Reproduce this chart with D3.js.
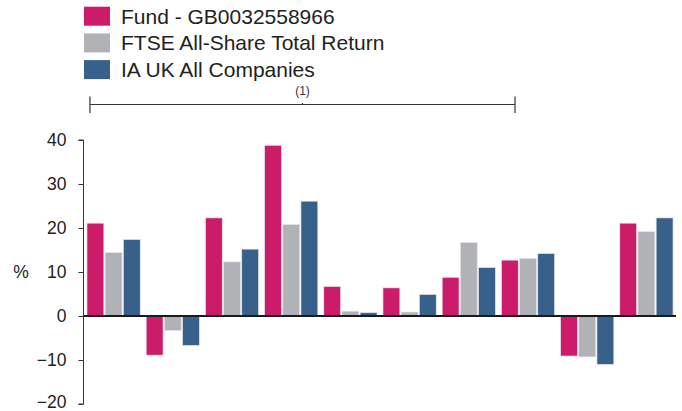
<!DOCTYPE html>
<html>
<head>
<meta charset="utf-8">
<script src="https://cdn.jsdelivr.net/npm/d3@7"></script>
<style>
  body { margin: 0; background: #fff; }
  svg { display: block; font-family: "Liberation Sans", Arial, sans-serif; }
</style>
</head>
<body>
<svg id="chart" width="682" height="411"></svg>
<script>
// periods (no labels shown in the picture)
const periods = ["P1", "P2", "P3", "P4", "P5", "P6", "P7", "P8", "P9", "P10"];
const seriesNames = ["Fund - GB0032558966", "FTSE All-Share Total Return", "IA UK All Companies"];
const seriesColors = ["#cc1b69", "#b1b2b5", "#37608b"];

const fundValues = [21.1, -8.9, 22.3, 38.8, 6.7, 6.4, 8.8, 12.7, -9.1, 21.1];
const ftseValues = [14.4, -3.3, 12.3, 20.8, 1.1, 0.9, 16.7, 13.1, -9.3, 19.2];
const iaValues   = [17.4, -6.7, 15.2, 26.1, 0.75, 4.9, 11.0, 14.2, -11.0, 22.3];

const yTicks = [-20, -10, 0, 10, 20, 30, 40];

const svg = d3.select("#chart");
const allSeries = [fundValues, ftseValues, iaValues];

const x0 = d3.scaleBand().domain(periods).range([84, 676]).paddingInner(0.1).paddingOuter(0.05);
const x1 = d3.scaleBand().domain(d3.range(3)).range([0, x0.bandwidth()]).paddingInner(0.07);
const y = d3.scaleLinear().domain([-20, 40]).range([404, 140]);

// y axis
const yAxis = svg.append("g")
  .attr("transform", "translate(83.5,0)")
  .call(d3.axisLeft(y).tickValues(yTicks).tickSize(5).tickPadding(12));
yAxis.select(".domain").attr("stroke", "#333").attr("d", `M-5,${y(40)}H0V${y(-20)}H-5`);
yAxis.selectAll(".tick line").attr("stroke", "#333");
yAxis.selectAll(".tick text")
  .attr("fill", "#222")
  .attr("dy", d => d === -20 ? "0.2em" : "0.32em")
  .style("font-size", "17.5px");

svg.append("text")
  .attr("x", 21)
  .attr("y", 278)
  .attr("text-anchor", "middle")
  .attr("fill", "#222")
  .style("font-size", "17.5px")
  .text("%");

// bars
const groups = svg.append("g").selectAll("g")
  .data(periods)
  .join("g")
  .attr("transform", d => `translate(${x0(d)},0)`);

groups.selectAll("rect")
  .data((d, i) => allSeries.map((s, k) => ({ k, v: s[i] })))
  .join("rect")
  .attr("x", d => x1(d.k))
  .attr("width", x1.bandwidth())
  .attr("y", d => y(Math.max(0, d.v)))
  .attr("height", d => Math.abs(y(d.v) - y(0)))
  .attr("fill", d => seriesColors[d.k])
  .attr("stroke", "#e6e6ea")
  .attr("stroke-width", 0.7);

// zero line
svg.append("line")
  .attr("x1", 83.5).attr("x2", 676)
  .attr("y1", y(0)).attr("y2", y(0))
  .attr("stroke", "#1a1a1a")
  .attr("stroke-width", 1.8);

// legend
const legend = svg.append("g").selectAll("g")
  .data(seriesNames)
  .join("g")
  .attr("transform", (d, i) => `translate(84,${6.7 + i * 26.7})`);

legend.append("rect")
  .attr("width", 26)
  .attr("height", 19)
  .attr("fill", (d, i) => seriesColors[i]);

legend.append("text")
  .attr("x", 37)
  .attr("y", 17)
  .attr("fill", "#222")
  .style("font-size", "21px")
  .text(d => d);

// bracket annotation
const bx1 = x0("P1") + 3, bx2 = 515, by = 104.5;
const bracket = svg.append("g").attr("stroke", "#333").attr("stroke-width", 1.2);
bracket.append("line").attr("x1", bx1).attr("x2", bx2).attr("y1", by).attr("y2", by);
bracket.append("line").attr("x1", bx1).attr("x2", bx1).attr("y1", 96.5).attr("y2", 113);
bracket.append("line").attr("x1", bx2).attr("x2", bx2).attr("y1", 96.5).attr("y2", 113);
bracket.append("line").attr("x1", (bx1 + bx2) / 2).attr("x2", (bx1 + bx2) / 2).attr("y1", by - 1.5).attr("y2", by);

svg.append("text")
  .attr("x", (bx1 + bx2) / 2)
  .attr("y", 95)
  .attr("text-anchor", "middle")
  .attr("fill", "#333")
  .style("font-size", "12px")
  .text("(1)");
</script>
</body>
</html>
